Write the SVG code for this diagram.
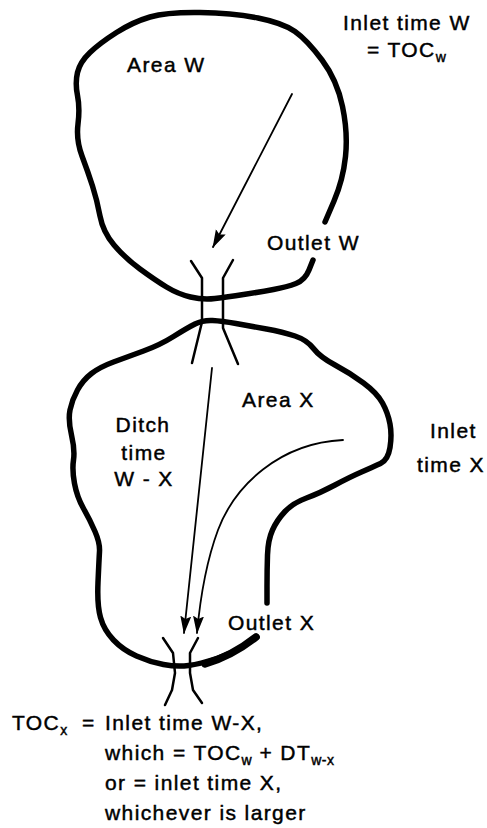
<svg xmlns="http://www.w3.org/2000/svg" width="487" height="828" viewBox="0 0 487 828">
<style>
.bd{fill:none;stroke:#000;stroke-width:5.5;stroke-linecap:round;stroke-linejoin:round}
.ch{fill:none;stroke:#000;stroke-width:2.5;stroke-linecap:round;stroke-linejoin:round}
.ar{fill:none;stroke:#000;stroke-width:1.8;stroke-linecap:round}
text{font-family:"Liberation Sans",Arial,sans-serif;font-size:21px;letter-spacing:1.4px;fill:#000;stroke:#000;stroke-width:0.45px}
.sub{font-size:14px;letter-spacing:0.5px}
</style>
<defs>
<marker id="ah" markerUnits="userSpaceOnUse" markerWidth="20" markerHeight="12" refX="17" refY="5.5" orient="auto">
<path d="M0,0 L18,5.5 L0,11 L3,5.5 z" fill="#000"/>
</marker>
</defs>
<rect width="487" height="828" fill="#fff"/>
<g id="area-w">
<path class="bd" d="M313,260 L309,270 Q305,280 296,283.5 Q287,287 273.5,289.5 Q260,292 243.5,294.5 Q227,297 215,298.5 Q203,300 190.5,297 Q178,294 166.5,287 Q155,280 140,269 Q125,258 114,245 Q103,232 100,216 Q97,200 92.5,186 Q88,172 82,156 Q76,140 78,124 Q80,108 77.5,95.5 Q75,83 77.5,72.5 Q80,62 90,52.5 Q100,43 116.5,32.5 Q133,22 150,17 Q167,12 200,12.5 Q233,13 258,18 Q283,23 295,31.5 Q307,40 322,60 Q337,80 342.5,106.5 Q348,133 345.5,156.5 Q343,180 334,201 L325,222"/>
<text x="127" y="72">Area W</text>
<text x="343" y="30">Inlet time W</text>
<text x="367" y="57">= TOC<tspan class="sub" dy="5">w</tspan></text>
</g>
<g id="outlet-w">
<polyline class="ch" points="191,261 202,278 202,322 192,363"/>
<polyline class="ch" points="233,260 223,278 223,328 238,364"/>
<text x="267" y="250">Outlet W</text>
</g>
<g id="area-x">
<path class="bd" d="M257,637 L245,645 Q233,653 216.5,658.5 Q200,664 188.5,665.5 Q177,667 163.5,664.5 Q150,662 136.5,656 Q123,650 113.5,640 Q104,630 100.5,617.5 Q97,605 98,582.5 Q99,560 99.5,551.5 Q100,543 95,531.5 Q90,520 83.5,508.5 Q77,497 74.5,483.5 Q72,470 73.5,460 Q75,450 71.5,435 Q68,420 70,410 Q72,400 77.5,390 Q83,380 91.5,373.5 Q100,367 113.5,362 Q127,357 143.5,351 Q160,345 173.5,336.5 Q187,328 195,324 Q203,320 212.5,320.5 Q222,321 236,323.5 Q250,326 266.5,329 Q283,332 295,336 Q307,340 313.5,348.5 Q320,357 335,365 Q350,373 363.5,383 Q377,393 382.5,403 Q388,413 390,424 Q392,435 390,447.5 Q388,460 380.5,463.5 Q373,467 361.5,472 Q350,477 335,485 Q320,493 306.5,498 Q293,503 285,511.5 Q277,520 272.5,530 Q268,540 267.5,555 Q267,570 267,586.5 L267,603"/>
<path d="M205,664 Q232,656 256,637" fill="none" stroke="#000" stroke-width="7.5" stroke-linecap="round"/>
<text x="242" y="407">Area X</text>
<text x="143" y="432" text-anchor="middle">Ditch</text>
<text x="144" y="460" text-anchor="middle">time</text>
<text x="144" y="486" text-anchor="middle">W - X</text>
<text x="430" y="438">Inlet</text>
<text x="417" y="472">time X</text>
</g>
<g id="outlet-x">
<polyline class="ch" points="163,638 173,653 175,673 172,690 165,705"/>
<polyline class="ch" points="198,638 190,653 190,673 193,690 202,703"/>
<text x="228" y="630">Outlet X</text>
</g>
<g id="connectors">
<line class="ar" x1="292" y1="94" x2="213" y2="247" marker-end="url(#ah)"/>
<line class="ar" x1="212" y1="368" x2="184" y2="633" marker-end="url(#ah)"/>
<path class="ar" d="M343,440 C280,443 235,485 218,530 C205,565 200,600 197,633" marker-end="url(#ah)"/>
</g>
<g id="formula">
<text x="12" y="730">TOC<tspan class="sub" dy="5">x</tspan></text>
<text x="82" y="730">=</text>
<text x="105" y="730">Inlet time W-X,</text>
<text x="105" y="760">which = TOC<tspan class="sub" dy="5">w</tspan><tspan dy="-5"> + DT</tspan><tspan class="sub" dy="5">w-x</tspan></text>
<text x="105" y="790">or = inlet time X,</text>
<text x="105" y="820">whichever is larger</text>
</g>
</svg>
